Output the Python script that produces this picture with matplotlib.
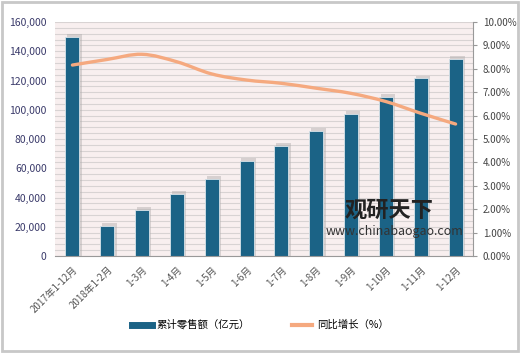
import numpy as np
import matplotlib.pyplot as plt
from matplotlib.lines import Line2D
from matplotlib.patches import Rectangle, PathPatch
from matplotlib.path import Path

plt.rcParams['font.family'] = ['Noto Sans CJK SC', 'DejaVu Sans']

# 数据
categories = ['2017年1-12月', '2018年1-2月', '1-3月', '1-4月', '1-5月', '1-6月',
              '1-7月', '1-8月', '1-9月', '1-10月', '1-11月', '1-12月']
sales = [149800, 20700, 31500, 42400, 52700, 65000,
         75400, 85700, 97100, 108900, 121500, 134900]
growth = [8.16, 8.40, 8.62, 8.30, 7.78, 7.52,
          7.38, 7.17, 6.95, 6.60, 6.10, 5.64]
left_ticks = [0, 20000, 40000, 60000, 80000, 100000, 120000, 140000, 160000]
right_ticks = [0, 1, 2, 3, 4, 5, 6, 7, 8, 9, 10]

bar_color = '#1b6386'
line_color = '#f5a97f'


def smooth_path(xs, ys, k=0.17):
    # 平滑曲线（贝塞尔控制点）
    verts = [(xs[0], ys[0])]
    codes = [Path.MOVETO]
    n = len(xs)
    for i in range(n - 1):
        x0, y0 = xs[max(i - 1, 0)], ys[max(i - 1, 0)]
        x1, y1 = xs[i], ys[i]
        x2, y2 = xs[i + 1], ys[i + 1]
        x3, y3 = xs[min(i + 2, n - 1)], ys[min(i + 2, n - 1)]
        c1 = (x1 + (x2 - x0) * k, y1 + (y2 - y0) * k)
        c2 = (x2 - (x3 - x1) * k, y2 - (y3 - y1) * k)
        verts += [c1, c2, (x2, y2)]
        codes += [Path.CURVE4] * 3
    return Path(verts, codes)


fig = plt.figure(figsize=(5.2, 3.53), dpi=100)
ax = fig.add_axes([55 / 520, 1 - 256 / 353, 418 / 520, 234 / 353])
ax.set_facecolor('#f8efef')

x = np.arange(len(categories))

# 背景条纹
for v in np.arange(0, 160001, 4000):
    ax.axhline(v, color='#d8d3d3', lw=0.8, zorder=0)

# 柱子阴影
ax.bar(x + 0.06, np.array(sales) + 1800, width=0.42, color='#b0acac', alpha=0.45, zorder=1)
ax.bar(x, sales, width=0.4, color=bar_color, edgecolor='#d9e4ea', lw=0.6, zorder=2)

ax.set_xlim(-0.5, len(categories) - 0.5)
ax.set_ylim(0, 160000)
ax.set_yticks(left_ticks)
ax.set_yticklabels(['{:,}'.format(v) for v in left_ticks], fontsize=7.5, color='#3a3a6a')
ax.set_xticks(x)
ax.set_xticklabels(categories, rotation=45, ha='right', rotation_mode='anchor',
                   fontsize=7, color='#555555')
ax.tick_params(axis='both', length=0, pad=6)
for s in ['top', 'right', 'left']:
    ax.spines[s].set_visible(False)
ax.spines['bottom'].set_color('#999999')

ax2 = ax.twinx()
ax2.add_patch(PathPatch(smooth_path(x, growth), fill=False, edgecolor=line_color,
                        lw=2.4, capstyle='round', zorder=3))
ax2.set_xlim(-0.5, len(categories) - 0.5)
ax2.set_ylim(0, 10)
ax2.set_yticks(right_ticks)
ax2.set_yticklabels(['{:.2f}%'.format(v) for v in right_ticks], fontsize=7, color='#444444')
ax2.tick_params(axis='y', length=3, color='#999999', pad=4)
for s in ['top', 'left', 'bottom']:
    ax2.spines[s].set_visible(False)
ax2.spines['right'].set_color('#999999')

# 水印
fig.text(0.663, 0.385, '观研天下', fontsize=16, fontweight='bold', color='#222222')
fig.text(0.627, 0.335, 'www.chinabaogao.com', fontsize=9, color='#333333')

# 图例
handles = [Line2D([0], [0], color=bar_color, lw=5),
           Line2D([0], [0], color=line_color, lw=3)]
fig.legend(handles, ['累计零售额（亿元）', '同比增长（%）'], loc='center',
           bbox_to_anchor=(0.5, 1 - 325 / 353), ncol=2, frameon=False,
           fontsize=7.5, handlelength=2.0, columnspacing=4, handletextpad=0.4)

# 外框
fig.patches.append(Rectangle((0.004, 0.006), 0.992, 0.988, transform=fig.transFigure,
                             fill=False, edgecolor='#c8c8c8', lw=2))

fig.savefig('out.png', dpi=100)
